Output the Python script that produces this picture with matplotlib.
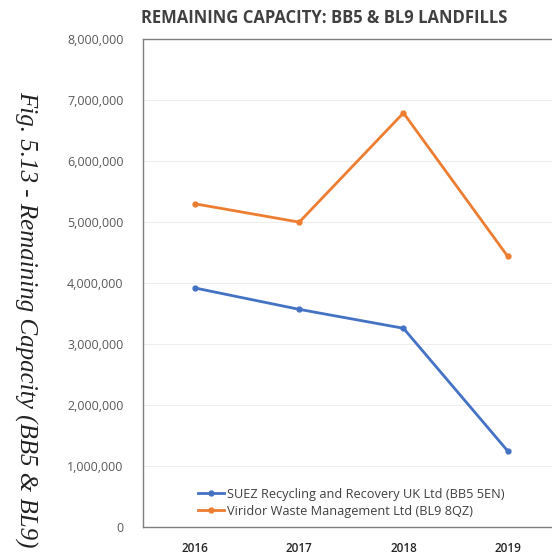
import matplotlib
matplotlib.use("Agg")
import matplotlib.pyplot as plt
from matplotlib.ticker import FuncFormatter, MultipleLocator

years = ["2016", "2017", "2018", "2019"]
suez = [3920000, 3570000, 3260000, 1250000]
viridor = [5300000, 5000000, 6790000, 4440000]
series_labels = ["SUEZ Recycling and Recovery UK Ltd (BB5 5EN)",
                 "Viridor Waste Management Ltd (BL9 8QZ)"]
title = "REMAINING CAPACITY: BB5 & BL9 LANDFILLS"
side_caption = "Fig. 5.13 - Remaining Capacity (BB5 & BL9)"

fig = plt.figure(figsize=(5.52, 5.59), dpi=100)
ax = fig.add_axes([0.259, 0.057, 0.755, 0.873])

x = range(len(years))
ax.plot(x, suez, color="#4472C4", lw=2, marker="o", ms=3.5, label=series_labels[0])
ax.plot(x, viridor, color="#ED7D31", lw=2, marker="o", ms=3.5, label=series_labels[1])

ax.set_xlim(-0.5, 3.5)
ax.set_ylim(0, 8000000)
ax.yaxis.set_major_locator(MultipleLocator(1000000))
ax.yaxis.set_major_formatter(FuncFormatter(lambda v, p: f"{int(v):,}"))
ax.set_xticks(list(x))
ax.set_xticklabels(years)
ax.grid(axis="y", color="#eeeeee", lw=0.8)
ax.set_axisbelow(True)

for s in ax.spines.values():
    s.set_color("#7f7f7f")
    s.set_linewidth(1.0)

ax.tick_params(axis="both", length=0)
ax.tick_params(axis="y", pad=14, labelsize=9, labelcolor="#595959")
ax.tick_params(axis="x", pad=11, labelsize=8.5, labelcolor="#262626")
for t in ax.get_yticklabels() + ax.get_xticklabels():
    t.set_family("Open Sans")
for t in ax.get_xticklabels():
    t.set_fontweight("semibold")

leg = ax.legend(loc="lower center", bbox_to_anchor=(0.50, 0.0), frameon=False,
                prop={"family": "Open Sans", "size": 9.2}, labelcolor="#404040",
                handlelength=2.0, handletextpad=0.2, borderaxespad=0.35,
                labelspacing=0.3)

fig.text(0.588, 0.968, title, ha="center", va="center", fontsize=12,
         fontweight="bold", family="Open Sans", color="#404040")

fig.text(0.047, 0.428, side_caption, rotation=270, ha="center", va="center",
         fontsize=18, family="Liberation Serif", style="italic", color="#222222")

fig.savefig("out.png", dpi=100)
